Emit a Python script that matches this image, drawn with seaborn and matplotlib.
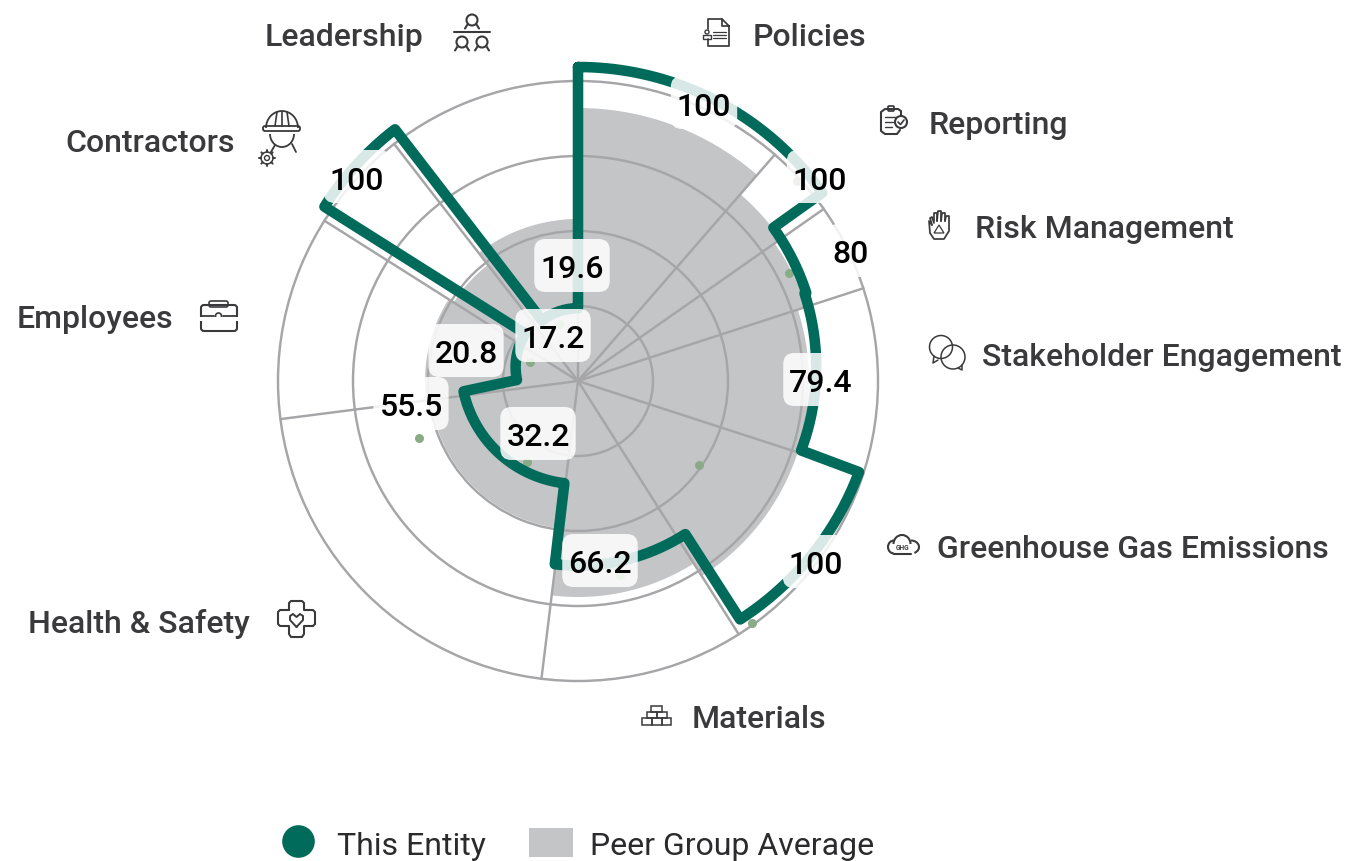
import numpy as np
import matplotlib
matplotlib.use("Agg")
import matplotlib.pyplot as plt
import seaborn as sns
from matplotlib.lines import Line2D
from matplotlib.patches import Circle, FancyBboxPatch, Polygon, Arc, Rectangle, Patch

# ---- data ----
categories = ["Policies", "Reporting", "Risk Management", "Stakeholder Engagement",
              "Greenhouse Gas Emissions", "Materials", "Health & Safety",
              "Employees", "Contractors", "Leadership"]
peer_edges = [0, 41, 55, 72, 108, 147.6, 187, 262.7, 302.3, 322.2, 360]
entity_edges = [0, 41, 54.5, 72, 110.5, 147.3, 186.7, 258, 302.3, 322.4, 360]
entity_values = [100, 100, 80, 79.4, 100, 66.2, 39, 20.8, 100, 19.6]
peer_values = [91, 82.5, 80, 77, 77, 72, 49.5, 51, 49, 54]
dot_theta = [47.6, 62.9, 124.8, 144.3, 167.8, 212, 250.3, 292, 342]
dot_r = [98.7, 79, 49, 99.3, 66.2, 32, 56.3, 17.3, 20]
label_texts = ["100", "100", "80", "79.4", "100", "66.2", "32.2", "55.5", "20.8", "100", "17.2", "19.6"]
rings = [25, 50, 75, 100]
legend_labels = ["This Entity", "Peer Group Average"]

GREEN = "#006b5b"
GREY = "#c4c5c7"
GRID = "#a6a6a9"
DOT = "#8aab87"
INK = "#3a3a3c"

sns.set_theme(style="white")
plt.rcParams["font.family"] = ["Roboto", "DejaVu Sans"]

W, H = 1351, 862
fig = plt.figure(figsize=(W / 100, H / 100), dpi=100, facecolor="white")


def polar_axes(cx, cy, radius=300, z=1):
    ax = fig.add_axes([(cx - radius) / W, 1 - (cy + radius) / H, 2 * radius / W, 2 * radius / H],
                      projection="polar", zorder=z)
    ax.set_theta_zero_location("N")
    ax.set_theta_direction(-1)
    ax.patch.set_alpha(0)
    return ax


def steps(edges, values):
    th, r = [], []
    for a, b, v in zip(edges[:-1], edges[1:], values):
        t = np.radians(np.linspace(a, b, 60))
        th.extend(t)
        r.extend([v] * len(t))
    return np.array(th), np.array(r)


# peer fill, grid, dots
base = polar_axes(578, 382, z=1)
th, r = steps(peer_edges, peer_values)
base.fill(th, r, color=GREY, lw=0, zorder=1)
base.set_ylim(0, 100)
base.set_xticks(np.radians(peer_edges[:-1]))
base.set_yticks(rings)
base.set_xticklabels([])
base.set_yticklabels([])
base.set_axisbelow(False)
base.grid(True, color=GRID, lw=1.75)
for g in base.get_xgridlines() + base.get_ygridlines():
    g.set_clip_on(False)
base.spines["polar"].set_visible(False)
sns.scatterplot(x=np.radians(dot_theta), y=dot_r, ax=base, color=DOT, s=42, linewidth=0,
                zorder=3, clip_on=False)
base.set_xlabel("")
base.set_ylabel("")
base.set_ylim(0, 100)

# entity outline (its own origin sits slightly above the grid's)
top = polar_axes(578, 368, z=2)
th, r = steps(entity_edges, entity_values)
th = np.append(th, th[0])
r = np.append(r, r[0])
sns.lineplot(x=th, y=r, ax=top, color=GREEN, linewidth=7.6, sort=False, estimator=None, errorbar=None,
             clip_on=False, solid_joinstyle="round", solid_capstyle="round")
top.set_ylim(0, 100)
top.set_axis_off()

# overlay in pixel space for text, icons and legend
ov = fig.add_axes([0, 0, 1, 1], zorder=5)
ov.set_xlim(0, W)
ov.set_ylim(H, 0)
ov.axis("off")
ov.patch.set_alpha(0)

renderer = fig.canvas.get_renderer()
label_x = [704, 820, 851, 821, 816, 600, 538, 411, 466, 357, 553, 572]
label_y = [104, 178, 252, 381, 563, 562, 435, 405, 352, 178, 337, 267]
for t, x, y in zip(label_texts, label_x, label_y):
    txt = ov.text(x, y, t, fontsize=23, color="black", ha="center", va="center_baseline",
                  fontweight=500, zorder=4)
    half = txt.get_window_extent(renderer).width / 2 - 2
    ov.add_patch(FancyBboxPatch((x - half, y - 19), 2 * half, 37,
                                boxstyle="round,pad=8,rounding_size=11", fc="white", ec="none",
                                alpha=0.85, zorder=3, mutation_aspect=1))

cat_x = [753, 929, 975, 982, 937, 692, 28, 17, 65, 265]
cat_y = [35, 123, 227, 355, 547, 717, 621, 317, 141, 35]
for t, x, y in zip(categories, cat_x, cat_y):
    ov.text(x, y, t, fontsize=23, color=INK, ha="left", va="center_baseline", fontweight=500)

# ---- icons ----
IC = dict(color=INK, lw=1.25, solid_capstyle="round", solid_joinstyle="round")


def ln(*pts, **kw):
    xs, ys = zip(*pts)
    d = dict(IC)
    d.update(kw)
    ov.plot(xs, ys, **d)


def circ(x, y, r, lw=1.25, fc="none"):
    ov.add_patch(Circle((x, y), r, fc=fc, ec=INK, lw=lw))


def rrect(x0, y0, x1, y1, rad=2, lw=1.25):
    ov.add_patch(FancyBboxPatch((x0 + rad, y0 + rad), x1 - x0 - 2 * rad, y1 - y0 - 2 * rad,
                                boxstyle=f"round,pad={rad},rounding_size={rad}",
                                fc="none", ec=INK, lw=lw))


def person(x, y, r=5.5):
    circ(x, y, r, lw=1.5)
    ln((x - r + 1, y + r - 1), (x - r - 1.5, y + r + 3), lw=1.5)
    ln((x + r - 1, y + r - 1), (x + r + 1.5, y + r + 3), lw=1.5)


# Leadership
person(472, 21)
ln((454, 33), (490, 33), lw=1.5)
person(462, 43)
person(482, 43)

# Policies
ln((722, 20), (708, 20), (708, 30))
ln((708, 40), (708, 47), (729, 47), (729, 27), (722, 20), (722, 27), (729, 27))
for yy in (33, 36, 39):
    ln((713, yy), (726, yy), lw=0.9)
circ(707, 33, 2, lw=1)
ov.add_patch(Rectangle((703, 36), 8, 4, fc="none", ec=INK, lw=1))

# Reporting
ln((901, 116), (901, 112), (898, 110), (885, 110), (881, 113), (881, 132), (885, 135), (897, 135), (900, 131),
   lw=1.5)
rrect(888, 107, 894, 112, rad=1)
for yy, xe in ((118, 896), (123, 893), (128, 892)):
    ln((885, yy), (xe, yy), lw=1)
circ(901, 123, 6, lw=1.5)
ln((898, 123), (900.5, 125.5), (904, 121), lw=1.2)

# Risk Management
ln((932, 226), (930, 219), (932, 218), (934, 224))
ln((934, 222), (934, 214), (937, 214), (937, 222))
ln((937, 222), (938, 212), (941, 212), (941, 222))
ln((941, 222), (942, 214), (945, 214), (945, 222))
ln((945, 222), (946, 217), (949, 217), (949, 232), (944, 240), (934, 240), (930, 234), (929, 222), (932, 226))
ov.add_patch(Polygon([(939, 226), (934, 234), (944, 234)], closed=True, fc="none", ec=INK, lw=0.9))

# Stakeholder Engagement
circ(941, 348, 11.5, lw=1.1)
ln((934, 357), (933, 364), (938, 361), lw=1.1)
circ(953, 358, 12, lw=1.1)
ln((958, 369), (962, 371), (962, 366), lw=1.1)

# Greenhouse Gas Emissions
ov.add_patch(Arc((894, 548), 12, 13, theta1=90, theta2=270, ec=INK, lw=1.5))
ov.add_patch(Arc((911, 548), 16, 13, theta1=-90, theta2=60, ec=INK, lw=1.5))
ov.add_patch(Arc((902, 545), 17, 18, theta1=180, theta2=360, ec=INK, lw=1.5))
ln((894, 554.5), (911, 554.5), lw=1.5)
ov.text(902.5, 548.5, "GHG", fontsize=4.8, color=INK, ha="center", va="center", fontweight="bold")

# Materials
for x0, x1, y0, y1 in [(651, 662, 707, 713), (647, 657, 713, 719), (657, 667, 713, 719),
                       (642, 651.5, 719, 726), (651.5, 661.5, 719, 726), (661.5, 671, 719, 726)]:
    ov.add_patch(Rectangle((x0, y0), x1 - x0, y1 - y0, fc="none", ec=INK, lw=1.1))

# Health & Safety
ln((289, 611), (289, 604), (291, 602), (302, 602), (304, 604), (304, 611), (313, 611), (315, 613),
   (315, 625), (313, 627), (304, 627), (304, 635), (302, 638), (291, 638), (289, 635), (289, 627),
   (280, 627), (278, 625), (278, 613), (280, 611), (289, 611), lw=1.5)
ln((296.5, 628), (290, 621), (290, 617), (293, 615), (296.5, 618), (300, 615), (303, 617), (303, 621),
   (296.5, 628), lw=1.4)

# Employees
rrect(201, 306, 237, 332, rad=3, lw=1.5)
rrect(209, 302, 228, 308, rad=2, lw=1.2)
ov.add_patch(Rectangle((198, 318), 42, 4, fc="white", ec="none", zorder=2.5))
ln((201, 317), (214, 317), lw=1.3, zorder=3)
ln((223, 317), (237, 317), lw=1.3, zorder=3)
circ(218.5, 317, 3, lw=1.2)

# Contractors
ov.add_patch(Arc((282, 129), 32, 34, theta1=180, theta2=360, ec=INK, lw=1.3))
rrect(263, 127, 300, 132, rad=2, lw=1.3)
for xa, xb in ((277, 275), (282, 282), (287, 289)):
    ln((xa, 113), (xb, 127), lw=1.2)
ov.add_patch(Arc((282, 135), 24, 26, theta1=0, theta2=180, ec=INK, lw=1.3))
ln((292, 145), (296, 153), lw=1.3)
ln((275, 146), (271, 153), lw=1.3)
circ(267, 159, 6, lw=1.1)
circ(267, 159, 2.5, lw=1)
for ang in np.radians(np.arange(0, 360, 45)):
    ln((267 + 6 * np.cos(ang), 159 + 6 * np.sin(ang)), (267 + 8 * np.cos(ang), 159 + 8 * np.sin(ang)), lw=1.4)

# ---- legend ----
handles = [Line2D([], [], marker="o", ls="", color=GREEN, ms=23.5, mew=0),
           Patch(facecolor=GREY, edgecolor="none")]
ov.legend(handles, legend_labels, ncol=2, frameon=False, fontsize=23, labelcolor="#2b2b2d",
          loc="center left", bbox_to_anchor=(276, 845), bbox_transform=ov.transData,
          borderpad=0, borderaxespad=0, handlelength=1.36, handleheight=1.03,
          handletextpad=0.55, columnspacing=1.36)

fig.savefig("out.png", dpi=100)
